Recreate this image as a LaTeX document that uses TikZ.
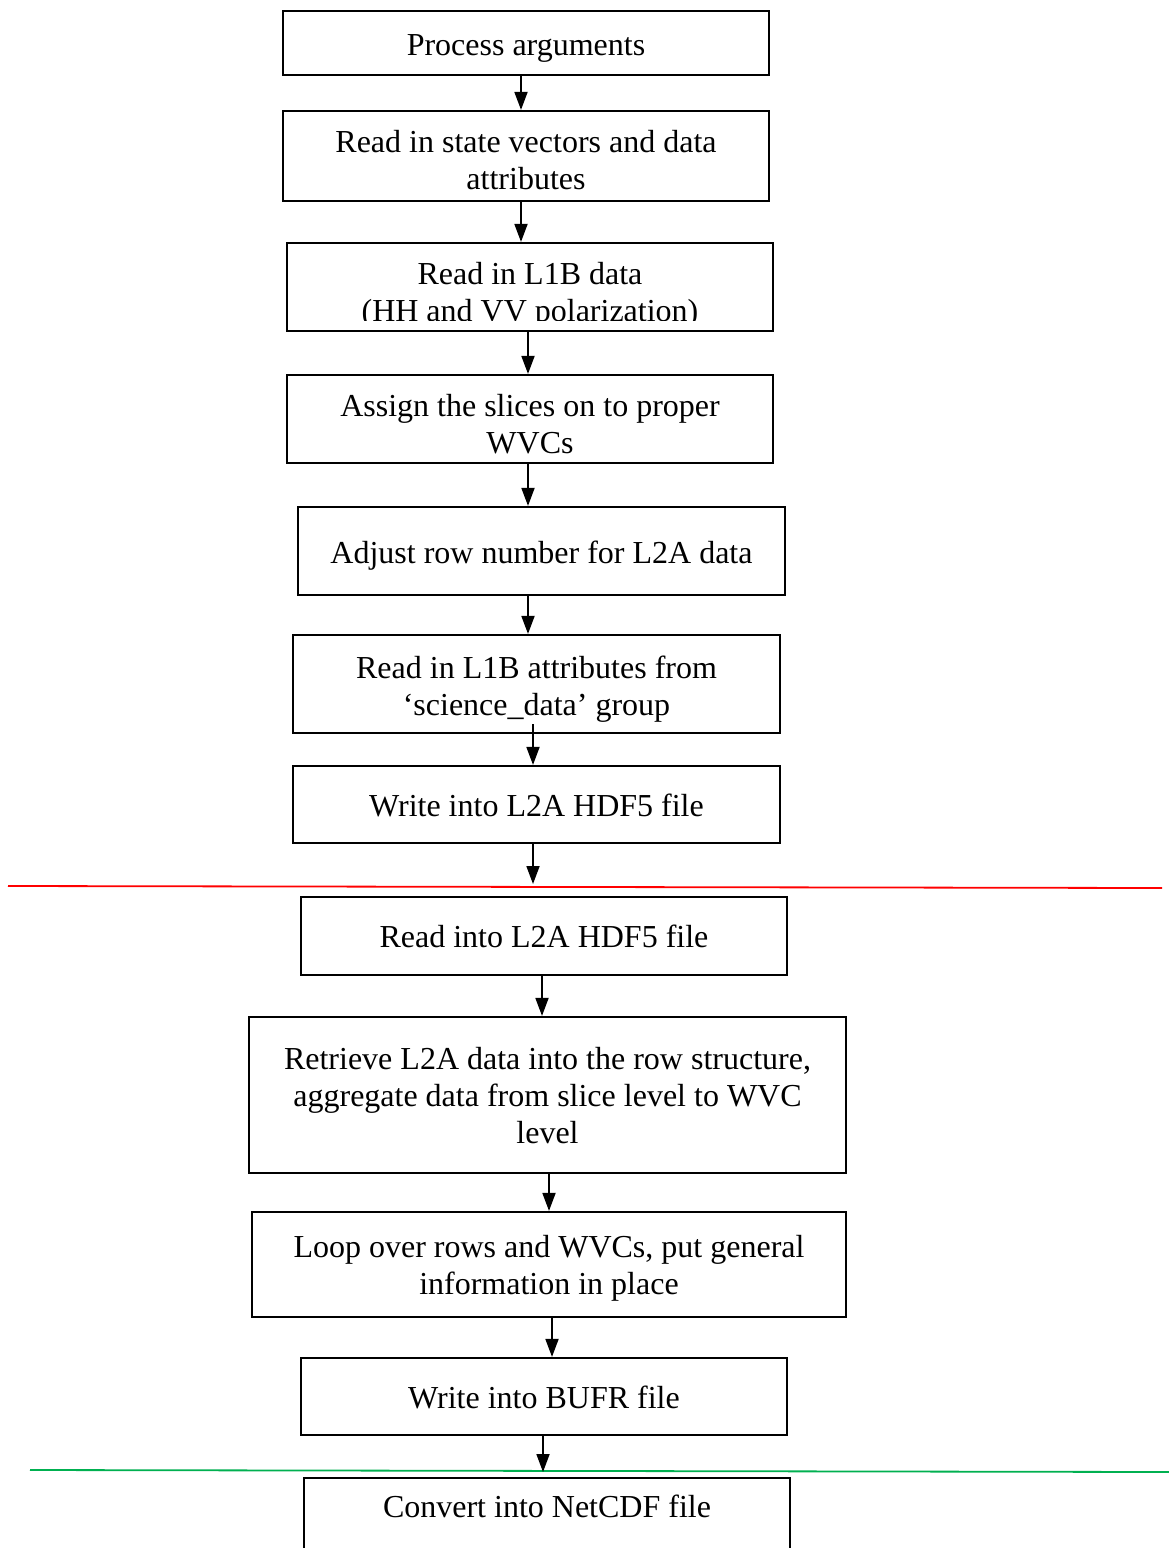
\documentclass[tikz,border=0pt]{standalone}
\usepackage{fontspec}
\setmainfont{Liberation Serif}
\usetikzlibrary{arrows.meta}
% fixed ascender / descender struts so every line box has the same extent
\newcommand\tstrut[1][30pt]{\rule{0pt}{#1}}
\newcommand\bstrut{\rule[-7pt]{0pt}{7pt}}
\begin{document}
\begin{tikzpicture}[x=1pt,y=-1pt,
  linebox/.style={align=center, inner sep=0pt, font=\fontsize{32}{37}\selectfont},
  box/.style={linebox, draw=black, line width=2.2pt, fill=none},
  txt/.style={linebox},
  flow/.style={draw=black, line width=1.8pt, -{Triangle[length=18pt,width=13pt]}},
  sep/.style={line width=1.8pt}]
\clip (0,0) rectangle (1169,1548);
\fill[white] (0,0) rectangle (1169,1548);

% processing steps
\node[box, minimum width=486, minimum height=64] (b1) at (526,43) {\tstrut[32pt]Process arguments\bstrut};
\node[box, minimum width=486, minimum height=90] (b2) at (526,156) {\tstrut[36pt]Read in state vectors and data\\attributes\bstrut};
\node[box, minimum width=486, minimum height=88] (b3) at (530,287) {};
\begin{scope}
  \clip (287,243) rectangle (773,320);
  \node[txt] (t3) at (530,291) {\tstrut Read in L1B data\\(HH and VV polarization)\bstrut};
\end{scope}
\node[box, minimum width=486, minimum height=88] (b4) at (530,419) {\tstrut[38pt]Assign the slices on to proper\\WVCs\bstrut};
\node[box, minimum width=487, minimum height=88] (b5) at (541.5,551) {\tstrut[32pt]Adjust row number for L2A data\bstrut};
\node[box, minimum width=487, minimum height=98] (b6) at (536.5,684) {\tstrut[33pt]Read in L1B attributes from\\‘science\_data’ group\bstrut};
\node[box, minimum width=487, minimum height=77] (b7) at (536.5,804.5) {\tstrut Write into L2A HDF5 file\bstrut};

\node[box, minimum width=486, minimum height=78] (b8) at (544,936) {\tstrut Read into L2A HDF5 file\bstrut};
\node[box, minimum width=597, minimum height=156] (b9) at (547.5,1095) {\tstrut Retrieve L2A data into the row structure,\\aggregate data from slice level to WVC\\level\bstrut};
\node[box, minimum width=594, minimum height=105] (b10) at (549,1264.5) {\tstrut Loop over rows and WVCs, put general\\information in place\bstrut};
\node[box, minimum width=486, minimum height=77] (b11) at (544,1396.5) {\tstrut Write into BUFR file\bstrut};
\node[box, minimum width=486, minimum height=140, anchor=north] (b12) at (547,1477) {};
\node[txt] (t12) at (547,1506) {\tstrut Convert into NetCDF file\bstrut};

% separators between the stages
\coordinate (r1) at (8,886);
\coordinate (r2) at (1162,888);
\draw[sep, red] (r1) -- (r2);
\coordinate (g1) at (30,1470);
\coordinate (g2) at (1169,1472);
\draw[sep, color={rgb,255:red,0;green,176;blue,80}] (g1) -- (g2);

% connectors
\coordinate (a6) at (533,724);
\coordinate (e7) at (533,884);
\coordinate (e11) at (543,1472);
\draw[flow] (b1.south -| 521,0) -- (b2.north -| 521,0);
\draw[flow] (b2.south -| 521,0) -- (b3.north -| 521,0);
\draw[flow] (b3.south -| 528,0) -- (b4.north -| 528,0);
\draw[flow] (b4.south -| 528,0) -- (b5.north -| 528,0);
\draw[flow] (b5.south -| 528,0) -- (b6.north -| 528,0);
\draw[flow] (a6) -- (b7.north -| a6);
\draw[flow] (b7.south -| e7) -- (e7);
\draw[flow] (b8.south -| 542,0) -- (b9.north -| 542,0);
\draw[flow] (b9.south -| 549,0) -- (b10.north -| 549,0);
\draw[flow] (b10.south -| 552,0) -- (b11.north -| 552,0);
\draw[flow] (b11.south -| e11) -- (e11);
\end{tikzpicture}
\end{document}
